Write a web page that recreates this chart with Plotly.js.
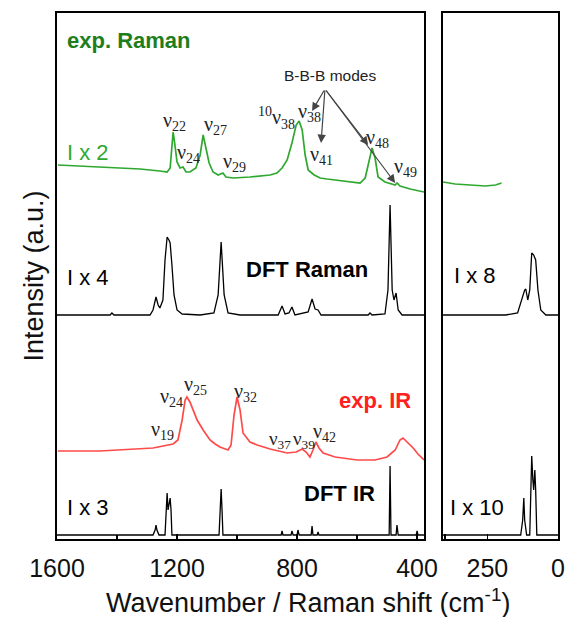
<!DOCTYPE html>
<html>
<head>
<meta charset="utf-8">
<script src="https://cdn.plot.ly/plotly-3.0.1.min.js"></script>
<style>html,body{margin:0;padding:0;background:#fff;}#chart{width:569px;height:617px;}</style>
</head>
<body>
<div id="chart"></div>
<script>
// ---- Data (wavenumber cm^-1, stacked intensity in arbitrary units) ----
// Experimental Raman (x2), left panel
var rawRamanX = [1597,1523,1423,1323,1257,1233,1223,1217,1213,1207,1200,1190,1180,1170,1157,1137,1123,1113,1103,1093,1080,1063,1047,1037,1013,957,890,867,850,833,817,803,793,783,773,763,743,723,700,673,623,590,573,560,550,540,530,507,473,467,457,423,377];
var rawRamanY = [374,373,371,370,368,367,371,394,407,394,377,371,372,367,367,371,384,404,389,376,367,364,366,362,361,362,364,366,371,379,396,414,418,409,384,369,364,361,360,359,357,356,361,379,391,381,362,357,354,356,353,350,347];
// Experimental Raman, right panel
var expRamanLowX = [407,364,311,257,221,200];
var expRamanLowY = [357,355,354,353,354,356];

// DFT Raman (x4), left panel
var dftRamanX = [1600,1423,1417,1410,1290,1280,1270,1263,1257,1247,1240,1233,1227,1223,1217,1210,1200,1183,1123,1077,1063,1053,1043,1030,990,863,850,840,827,817,807,763,750,740,730,720,563,557,550,507,497,490,483,477,470,463,450,377];
var dftRamanY = [224,224,226,224,224,229,242,234,231,239,279,302,299,296,274,244,229,225,224,226,244,297,244,226,224,224,233,225,226,232,224,227,240,230,229,224,224,226,224,225,249,334,249,239,246,229,224,224];
// DFT Raman (x8), right panel
var dftRamanLowX = [407,186,143,129,118,114,107,100,93,86,79,71,61,43,0];
var dftRamanLowY = [224,224,226,239,249,250,239,249,286,284,279,249,229,224,224];

// Experimental IR
var expIRX = [1597,1457,1280,1240,1213,1197,1183,1173,1167,1157,1133,1113,1090,1073,1057,1030,1020,1010,1000,990,980,957,933,890,833,803,783,770,757,747,737,727,713,673,600,540,500,473,457,447,437,413,397,377];
var expIRY = [88,88,91,93,95,99,119,139,142,137,119,109,99,95,92,89,94,124,142,129,106,97,94,90,86,87,90,87,82,89,97,91,86,82,79,79,82,89,99,101,98,91,85,79];

// DFT IR (x3), left panel
var dftIRX = [1600,1280,1273,1270,1267,1260,1240,1237,1233,1230,1227,1223,1220,1217,1060,1057,1053,1050,1047,853,850,847,820,817,813,800,797,793,753,750,747,733,730,727,493,490,487,470,467,463,403,400,397,377];
var dftIRY = [4,4,9,14,9,4,4,29,46,29,34,41,29,4,4,29,50,29,4,4,8,4,4,8,4,4,9,4,4,13,4,4,7,4,4,73,4,4,14,4,4,8,4,4];
// DFT IR (x10), right panel
var dftIRLowX = [407,132,125,121,118,111,100,96,93,89,86,82,79,75,0];
var dftIRLowY = [4,4,19,41,19,4,4,39,83,59,49,69,49,4,4];

// Axis tick labels
var leftTicks = [1600,1200,800,400];
var leftTickText = ['1600','1200','800','400'];
var rightTicks = [400,250,0];
var rightTickText = ['','250','0'];

// ---- Styles ----
var GREEN = '#2fa82f', GREEN_DARK = '#1e7e1e', RED = '#ff4a4a', RED_TXT = '#ff2020', BLACK = '#000';
var SANS = 'Liberation Sans, Arial, sans-serif';
var SERIF = 'Liberation Serif, Times New Roman, serif';

function tr(x, y, color, w, xa, ya) {
  return {x: x, y: y, type: 'scatter', mode: 'lines', xaxis: xa, yaxis: ya,
          line: {color: color, width: w, shape: 'linear'}, hoverinfo: 'skip', showlegend: false};
}
var data = [
  tr(rawRamanX, rawRamanY, GREEN, 1.7, 'x', 'y'),
  tr(expRamanLowX, expRamanLowY, GREEN, 1.7, 'x2', 'y2'),
  tr(dftRamanX, dftRamanY, BLACK, 1.3, 'x', 'y'),
  tr(dftRamanLowX, dftRamanLowY, BLACK, 1.3, 'x2', 'y2'),
  tr(expIRX, expIRY, RED, 1.7, 'x', 'y'),
  tr(dftIRX, dftIRY, BLACK, 1.3, 'x', 'y'),
  tr(dftIRLowX, dftIRLowY, BLACK, 1.3, 'x2', 'y2')
];

function lab(text, x, y, opts) {
  opts = opts || {};
  return {text: text, x: x, y: y, xref: opts.xref || 'x', yref: opts.yref || 'y', showarrow: false,
          xanchor: opts.xanchor || 'center', yanchor: 'middle',
          font: {family: opts.family || SERIF, size: opts.size || 20, color: opts.color || '#222'}};
}
function nu(n) { return '\u03bd<sub>' + n + '</sub>'; }
function arrow(x, y, ax, ay) {
  return {x: x, y: y, ax: ax, ay: ay, xref: 'x', yref: 'y', axref: 'x', ayref: 'y', text: '',
          showarrow: true, arrowhead: 2, arrowsize: 1.4, arrowwidth: 1.2, arrowcolor: '#444'};
}

var annotations = [
  lab('<b>exp. Raman</b>', 1575, 499, {xanchor: 'left', family: SANS, size: 22, color: GREEN_DARK}),
  lab('I x 2', 1575, 387, {xanchor: 'left', family: SANS, size: 22, color: GREEN}),
  lab('I x 4', 1575, 262, {xanchor: 'left', family: SANS, size: 22, color: BLACK}),
  lab('<b>DFT Raman</b>', 767, 270, {family: SANS, size: 22, color: BLACK}),
  lab('<b>exp. IR</b>', 540, 139, {family: SANS, size: 22, color: RED_TXT}),
  lab('I x 3', 1575, 32, {xanchor: 'left', family: SANS, size: 22, color: BLACK}),
  lab('<b>DFT IR</b>', 657, 46, {family: SANS, size: 22, color: BLACK}),
  lab('I x 8', 293, 264, {xref: 'x2', yref: 'y2', family: SANS, size: 22, color: BLACK}),
  lab('I x 10', 286, 32, {xref: 'x2', yref: 'y2', family: SANS, size: 22, color: BLACK}),
  lab(nu(22), 1207, 418),
  lab(nu(24), 1163, 386),
  lab(nu(27), 1073, 414),
  lab(nu(29), 1010, 377),
  lab('<sup>10</sup>' + nu(38), 870, 421),
  lab(nu(38), 757, 427),
  lab(nu(41), 720, 384),
  lab(nu(48), 533, 401),
  lab(nu(49), 440, 372),
  lab('B-B-B modes', 690, 464, {family: SANS, size: 15.5, color: '#222'}),
  arrow(750, 428, 707, 450),
  arrow(720, 396, 707, 450),
  arrow(563, 394, 707, 450),
  arrow(473, 356, 707, 450),
  lab(nu(19), 1247, 109),
  lab(nu(24), 1217, 142),
  lab(nu(25), 1140, 154),
  lab(nu(32), 973, 147),
  lab(nu(37), 857, 99, {size: 19}),
  lab(nu(39), 778, 99, {size: 19}),
  lab(nu(42), 708, 107),
  {text: 'Wavenumber / Raman shift (cm<sup>-1</sup>)', xref: 'paper', yref: 'paper', x: 0.5, y: -0.118,
   xanchor: 'center', yanchor: 'middle', showarrow: false, font: {family: SANS, size: 27, color: '#111'}}
];

var axBase = {showline: true, linewidth: 2, linecolor: BLACK, mirror: true, showgrid: false, zeroline: false,
              ticks: 'inside', ticklen: 5, tickwidth: 1.5, tickcolor: BLACK, ticklabelstandoff: 6,
              tickfont: {family: SANS, size: 25, color: '#111'}};

var layout = {
  width: 569, height: 617,
  margin: {l: 57, r: 11, t: 13, b: 78},
  paper_bgcolor: '#fff', plot_bgcolor: '#fff',
  showlegend: false,
  xaxis: Object.assign({}, axBase, {domain: [0, 0.7325], range: [1600, 377], autorange: false,
           tickmode: 'array', tickvals: leftTicks, ticktext: leftTickText,
           minor: {tickvals: [1400, 1000, 600], ticks: 'inside', ticklen: 4, tickwidth: 1.5, tickcolor: BLACK}}),
  xaxis2: Object.assign({}, axBase, {domain: [0.7705, 1], range: [407, 0], autorange: false,
           tickmode: 'array', tickvals: rightTicks, ticktext: rightTickText, anchor: 'y2'}),
  yaxis: Object.assign({}, axBase, {range: [0, 526], autorange: false, ticks: '', showticklabels: false,
           anchor: 'x', title: {text: 'Intensity (a.u.)', standoff: 4, font: {family: SANS, size: 27, color: '#111'}}}),
  yaxis2: Object.assign({}, axBase, {range: [0, 526], autorange: false, ticks: '', showticklabels: false, anchor: 'x2'}),
  annotations: annotations
};

Plotly.newPlot('chart', data, layout, {staticPlot: true, displayModeBar: false});
</script>
</body>
</html>
